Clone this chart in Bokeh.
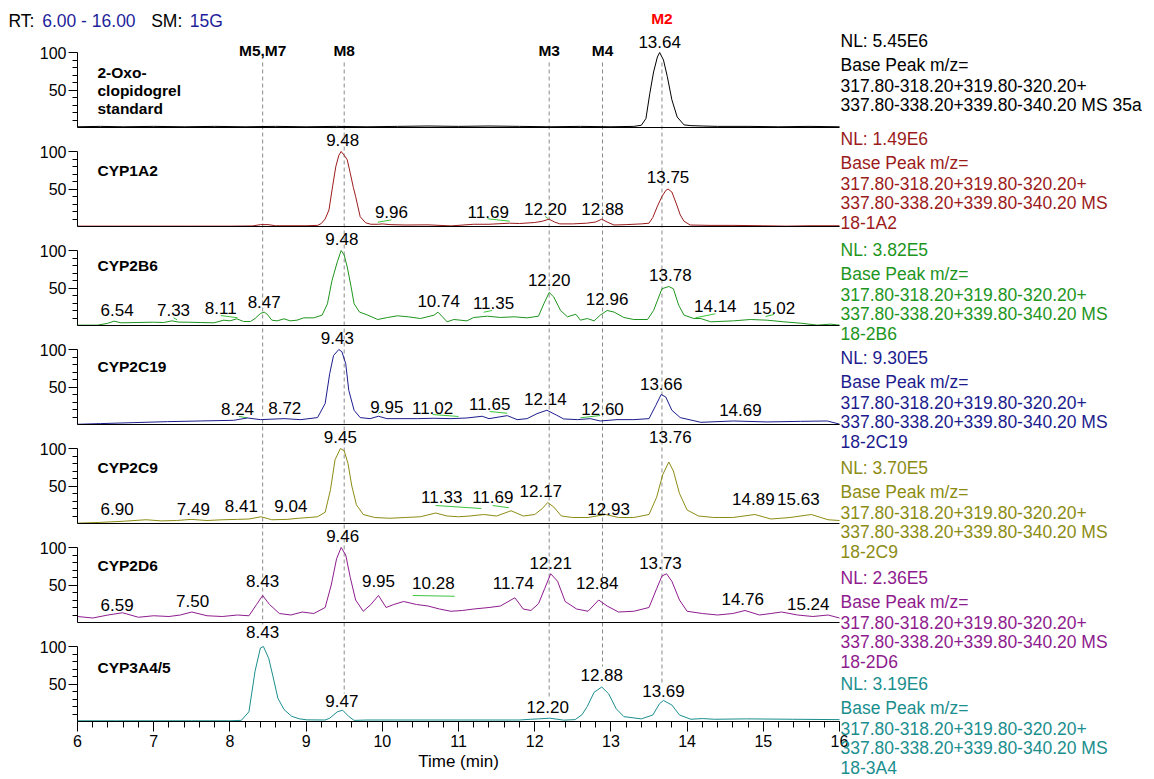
from bokeh.plotting import figure
from bokeh.models import Range1d, FixedTicker, Label, ColumnDataSource, LinearAxis
from bokeh.embed import file_html
from bokeh.resources import INLINE
from bokeh.core.properties import value

# ============================ DATA ============================
header_rt = "6.00 - 16.00"
header_sm = "15G"

marker_names = ["M5,M7", "M8", "M3", "M4", "M2"]
marker_rt = [8.43, 9.50, 12.19, 12.89, 13.67]

panel_titles = [["2-Oxo-", "clopidogrel", "standard"], ["CYP1A2"], ["CYP2B6"],
                ["CYP2C19"], ["CYP2C9"], ["CYP2D6"], ["CYP3A4/5"]]
nl_values = ["5.45E6", "1.49E6", "3.82E5", "9.30E5", "3.70E5", "2.36E5", "3.19E6"]
scan_ids = ["35a", "18-1A2", "18-2B6", "18-2C19", "18-2C9", "18-2D6", "18-3A4"]
mz_line1 = "317.80-318.20+319.80-320.20+"
mz_line2 = "337.80-338.20+339.80-340.20  MS"

# --- 2-Oxo-clopidogrel standard ---
rt_std = [6.00, 6.30, 6.60, 7.00, 7.40, 7.80, 8.20, 8.60, 9.00, 9.40,
          9.80, 10.20, 10.60, 11.00, 11.40, 11.80, 12.20, 12.60, 13.00, 13.30,
          13.40, 13.46, 13.51, 13.56, 13.61, 13.64, 13.69, 13.74, 13.80, 13.87,
          13.96, 14.05, 14.20, 14.40, 14.80, 15.20, 15.60, 16.00]
int_std = [1.0, 1.5, 1.0, 1.5, 1.0, 1.5, 1.0, 1.5, 1.0, 1.5,
           1.0, 1.5, 2.0, 1.5, 2.0, 1.5, 1.0, 1.5, 1.0, 1.5,
           3.0, 12, 45, 74, 94, 100, 90, 68, 37, 14,
           3.5, 2.5, 2.0, 1.5, 1.5, 1.0, 1.5, 1.0]

# --- CYP1A2 ---
rt_1a2 = [6.00, 6.50, 7.00, 7.50, 8.00, 8.30, 8.40, 8.50, 8.60, 9.00,
          9.15, 9.20, 9.25, 9.30, 9.35, 9.39, 9.43, 9.46, 9.50, 9.54,
          9.58, 9.62, 9.65, 9.71, 9.78, 9.85, 9.95, 10.00, 10.10, 10.30,
          10.60, 10.90, 11.20, 11.40, 11.67, 11.80, 12.00, 12.10, 12.19, 12.26,
          12.33, 12.50, 12.68, 12.80, 12.88, 12.95, 13.04, 13.20, 13.40, 13.50,
          13.55, 13.61, 13.67, 13.72, 13.75, 13.80, 13.86, 13.91, 13.96, 14.04,
          14.30, 14.60, 15.00, 15.30, 15.60, 16.00]
int_1a2 = [0.5, 0.5, 0.5, 0.5, 0.5, 0.8, 2.5, 2.5, 1.0, 1.0,
           1.5, 4, 10, 22, 55, 80, 95, 100, 95, 89,
           71, 52, 40, 13, 5, 3, 3, 3.5, 2.5, 2,
           2.2, 0.8, 3, 3, 4.4, 4, 5.3, 7, 9.8, 6,
           3.5, 3.5, 4.4, 6, 9.8, 6, 2, 2.5, 3.5, 4.4,
           12, 27, 40, 48, 50, 46, 30, 15.5, 7, 2,
           1.5, 1.5, 1.0, 0.5, 1.0, 1.0]

# --- CYP2B6 ---
rt_2b6 = [6.00, 6.26, 6.39, 6.48, 6.57, 6.78, 7.00, 7.13, 7.24, 7.33,
          7.44, 7.61, 7.79, 7.92, 8.00, 8.09, 8.18, 8.27, 8.33, 8.40,
          8.45, 8.49, 8.55, 8.62, 8.71, 8.79, 8.88, 8.97, 9.10, 9.21,
          9.28, 9.34, 9.41, 9.46, 9.50, 9.54, 9.59, 9.63, 9.70, 9.81,
          9.94, 10.07, 10.20, 10.34, 10.50, 10.68, 10.73, 10.79, 10.85, 10.94,
          11.11, 11.20, 11.38, 11.55, 11.73, 11.90, 12.05, 12.12, 12.19, 12.25,
          12.34, 12.43, 12.54, 12.60, 12.69, 12.78, 12.86, 12.95, 13.04, 13.17,
          13.30, 13.48, 13.56, 13.67, 13.76, 13.82, 13.89, 13.96, 14.09, 14.18,
          14.31, 14.61, 14.83, 15.05, 15.27, 15.50, 15.71, 15.88, 16.00]
int_2b6 = [0.5, 0.5, 2.7, 5.8, 3.6, 4.0, 4.4, 4.0, 6.2, 4.5,
           4.4, 4.0, 3.6, 7.1, 6.2, 8.9, 5.3, 5.3, 9.3, 16,
           17.8, 15, 7.1, 6.2, 8.9, 6.2, 7.1, 10.2, 10.2, 13.8,
           29, 60, 85, 100, 94, 78, 52, 29, 18, 13.8,
           8, 10.7, 12.9, 11.6, 9.3, 13.8, 17.8, 11.6, 4.9, 8,
           6.2, 10.7, 12.4, 10.7, 11.6, 10.2, 12.4, 29, 44, 38,
           20, 11.6, 15, 7.1, 9.3, 6.2, 13.8, 20, 18, 10.7,
           8, 8, 20, 49, 52, 49, 27, 13.8, 9.3, 9.3,
           4.9, 6.2, 8, 7.1, 4.9, 3, 0.5, 1.8, 0.5]

# --- CYP2C19 ---
rt_2c19 = [6.00, 6.30, 6.74, 7.18, 7.61, 8.05, 8.23, 8.40, 8.71, 8.93,
           9.15, 9.25, 9.31, 9.36, 9.43, 9.47, 9.52, 9.56, 9.63, 9.71,
           9.84, 9.95, 10.06, 10.46, 10.68, 10.90, 11.11, 11.31, 11.40, 11.64,
           11.77, 11.90, 12.03, 12.16, 12.29, 12.38, 12.56, 12.73, 12.86, 13.08,
           13.30, 13.50, 13.59, 13.66, 13.72, 13.80, 13.91, 14.18, 14.61, 15.05,
           15.49, 15.84, 16.00]
int_2c19 = [0.3, 1.2, 2.5, 3.8, 4.7, 5.6, 8.7, 6.5, 7.8, 6.5,
            9.2, 28, 68, 92, 100, 97, 81, 45.6, 19, 9.2,
            7.8, 11, 7.8, 7.8, 8.3, 7.8, 8.7, 11, 7.8, 11.8,
            6.5, 7.8, 14.5, 19, 12.3, 7.4, 6.5, 7.8, 4.7, 6.5,
            6.5, 7.8, 25.6, 40, 36.7, 19, 9.2, 2.9, 4.7, 3.4,
            4.2, 4.7, 0.5]

# --- CYP2C9 ---
rt_2c9 = [6.00, 6.30, 6.60, 6.90, 7.10, 7.30, 7.49, 7.70, 7.90, 8.10,
          8.25, 8.41, 8.55, 8.75, 8.90, 9.04, 9.15, 9.25, 9.32, 9.38,
          9.45, 9.50, 9.55, 9.60, 9.66, 9.75, 9.90, 10.10, 10.30, 10.50,
          10.70, 10.85, 11.00, 11.15, 11.33, 11.50, 11.69, 11.85, 12.00, 12.10,
          12.17, 12.25, 12.35, 12.50, 12.70, 12.93, 13.10, 13.30, 13.50, 13.60,
          13.68, 13.76, 13.82, 13.90, 14.00, 14.15, 14.35, 14.60, 14.89, 15.10,
          15.35, 15.63, 15.85, 16.00]
int_2c9 = [0.5, 1.5, 3.0, 5.0, 3.5, 4.0, 5.5, 4.0, 5.0, 5.5,
           6.0, 9.0, 5.0, 5.5, 7.0, 8.0, 9.0, 15, 45, 85,
           100, 97, 80, 50, 25, 12, 8, 7, 8, 9,
           14, 10, 9, 10, 12, 10, 17, 10, 12, 20,
           28, 22, 10, 8, 8, 12, 8, 8, 12, 35,
           65, 82, 70, 40, 18, 10, 8, 8, 12, 6,
           8, 12, 5, 4]

# --- CYP2D6 ---
rt_2d6 = [6.00, 6.20, 6.40, 6.59, 6.80, 7.00, 7.20, 7.35, 7.50, 7.70,
          7.90, 8.10, 8.25, 8.35, 8.43, 8.52, 8.65, 8.80, 8.95, 9.10,
          9.25, 9.33, 9.40, 9.46, 9.52, 9.58, 9.65, 9.75, 9.85, 9.95,
          10.05, 10.15, 10.28, 10.45, 10.60, 10.75, 10.90, 11.05, 11.20, 11.40,
          11.55, 11.74, 11.85, 11.95, 12.05, 12.13, 12.21, 12.30, 12.40, 12.55,
          12.70, 12.84, 12.95, 13.10, 13.30, 13.50, 13.60, 13.67, 13.73, 13.80,
          13.90, 14.00, 14.20, 14.40, 14.60, 14.76, 14.95, 15.10, 15.24, 15.45,
          15.65, 15.85, 16.00]
int_2d6 = [8, 6, 10, 13, 7, 9, 8, 10, 14, 9,
           8, 10, 9, 24, 36, 24, 12, 10, 14, 12,
           20, 50, 85, 100, 90, 60, 30, 15, 24, 36,
           20, 24, 28, 24, 22, 18, 15, 16, 18, 20,
           22, 33, 18, 16, 25, 45, 65, 55, 28, 18,
           15, 30, 22, 14, 15, 20, 45, 62, 65, 55,
           30, 15, 12, 10, 12, 16, 10, 12, 14, 10,
           8, 10, 6]

# --- CYP3A4/5 ---
rt_3a4 = [6.00, 6.50, 7.00, 7.50, 8.00, 8.15, 8.25, 8.33, 8.40, 8.44,
          8.51, 8.57, 8.63, 8.71, 8.81, 8.91, 9.01, 9.25, 9.31, 9.41,
          9.48, 9.56, 9.63, 9.80, 10.20, 10.60, 11.00, 11.40, 11.80, 11.95,
          12.05, 12.20, 12.38, 12.53, 12.62, 12.69, 12.78, 12.88, 12.97, 13.07,
          13.17, 13.40, 13.55, 13.64, 13.69, 13.80, 13.90, 14.05, 14.20, 14.36,
          14.78, 15.38, 16.00]
int_3a4 = [1.0, 1.0, 1.0, 1.0, 1.0, 1.5, 13, 67, 98, 100,
           84, 58, 31, 16, 7, 3.6, 2.2, 2.0, 4.4, 13,
           15, 6.7, 1.5, 2.0, 2.0, 2.0, 2.0, 2.0, 2.0, 3.0,
           3.5, 4.4, 1.8, 2.5, 9, 20, 39, 46, 37, 17,
           6.5, 3.5, 8.7, 24, 28, 22, 8.7, 3, 3.9, 3,
           3.5, 3, 2.5]

# peak annotation texts
peaks_std = ["13.64"]
peaks_1a2 = ["9.48", "9.96", "11.69", "12.20", "12.88", "13.75"]
peaks_2b6 = ["6.54", "7.33", "8.11", "8.47", "9.48", "10.74", "11.35", "12.20",
             "12.96", "13.78", "14.14", "15.02"]
peaks_2c19 = ["8.24", "8.72", "9.43", "9.95", "11.02", "11.65", "12.14", "12.60",
              "13.66", "14.69"]
peaks_2c9 = ["6.90", "7.49", "8.41", "9.04", "9.45", "11.33", "11.69", "12.17",
             "12.93", "13.76", "14.89", "15.63"]
peaks_2d6 = ["6.59", "7.50", "8.43", "9.46", "9.95", "10.28", "11.74", "12.21",
             "12.84", "13.73", "14.76", "15.24"]
peaks_3a4 = ["8.43", "9.47", "12.20", "12.88", "13.69"]

# ====================== LAYOUT / STYLE ======================
# label anchors: x in minutes, y in % of the panel
lx_std = [13.64]
ly_std = [114]
lx_1a2 = [9.48, 10.12, 11.39, 12.14, 12.89, 13.75]
ly_1a2 = [115, 19, 19.6, 23, 23, 66]
lx_2b6 = [6.52, 7.26, 7.88, 8.45, 9.47, 10.74, 11.46, 12.19, 12.95, 13.78, 14.37, 15.14]
ly_2b6 = [20.4, 20.4, 22.7, 31.5, 114.7, 32.8, 30, 60.4, 36, 68, 25.7, 22.7]
lx_2c19 = [8.10, 8.72, 9.41, 10.06, 10.66, 11.41, 12.14, 12.89, 13.66, 14.70]
ly_2c19 = [20.3, 22, 116, 24, 22.5, 27, 34.5, 21, 54.5, 20]
lx_2c9 = [6.52, 7.52, 8.15, 8.80, 9.45, 10.78, 11.45, 12.08, 12.97, 13.78, 14.87, 15.46]
ly_2c9 = [20, 20, 24, 24, 116, 35, 35, 44, 19, 116, 33, 33]
lx_2d6 = [6.52, 7.51, 8.43, 9.48, 9.95, 10.67, 11.72, 12.21, 12.82, 13.65, 14.73, 15.59]
ly_2d6 = [24, 29, 55, 116, 55, 53, 53, 79, 53, 79, 32, 25]
lx_3a4 = [8.43, 9.47, 12.17, 12.88, 13.69]
ly_3a4 = [119, 26.7, 20, 62, 41]

# small green leader lines joining displaced labels to their peaks (x0, y0, x1, y1)
lead_std = []
lead_1a2 = [(9.94, 5.7, 10.12, 8.9), (11.38, 10.3, 11.67, 7.1), (12.14, 13.3, 12.18, 10.3)]
lead_2b6 = [(7.26, 10.3, 7.31, 7.6), (7.88, 13.3, 8.10, 10.3), (11.33, 17.7, 11.44, 20),
            (14.11, 10.3, 14.37, 15.6), (15.03, 12, 15.14, 14.7)]
lead_2c19 = [(8.12, 10.7, 8.23, 8.9), (9.95, 15, 9.99, 17.7), (10.66, 13.3, 11.0, 10.7),
             (11.41, 17.3, 11.64, 15), (12.60, 8.9, 12.86, 12)]
lead_2c9 = [(10.70, 24, 11.30, 20), (11.45, 24, 11.66, 21)]
lead_2d6 = [(10.40, 36, 10.95, 35)]
lead_3a4 = []

FONT = "Liberation Sans"
colors = ["#000000", "#9B1B1B", "#1E951E", "#1C1C8E", "#8C8C14", "#8E1C8E", "#1B8E8E"]
NAVY = "#1F1F9C"
DASH_COLOR = "#8a8a8a"
LEADER_COLOR = "#3CC43C"

W, H = 1154, 779
PX_MIN = 76.2          # pixels per minute
PX_UNIT = 0.75         # pixels per % unit
X_PX6 = 77             # pixel column of t = 6 min
baseline_px = [127, 226, 325, 424, 523, 622, 721]


def px_to_rt(px):
    return 6 + (px - X_PX6) / PX_MIN


p = figure(width=W, height=H,
           x_range=Range1d(px_to_rt(0), px_to_rt(W)), y_range=Range1d(H, 0),
           x_axis_location=None, y_axis_location=None,
           output_backend="svg", toolbar_location=None,
           min_border_left=0, min_border_right=0, min_border_top=0, min_border_bottom=0)
p.outline_line_color = None
p.background_fill_color = "white"
p.border_fill_color = "white"
for g in p.grid:
    g.visible = False

p.extra_y_ranges = {f"p{k}": Range1d(-(H - baseline_px[k]) / PX_UNIT, baseline_px[k] / PX_UNIT)
                    for k in range(7)}

traces = [(rt_std, int_std), (rt_1a2, int_1a2), (rt_2b6, int_2b6), (rt_2c19, int_2c19),
          (rt_2c9, int_2c9), (rt_2d6, int_2d6), (rt_3a4, int_3a4)]
peak_txt = [peaks_std, peaks_1a2, peaks_2b6, peaks_2c19, peaks_2c9, peaks_2d6, peaks_3a4]
peak_lx = [lx_std, lx_1a2, lx_2b6, lx_2c19, lx_2c9, lx_2d6, lx_3a4]
peak_ly = [ly_std, ly_1a2, ly_2b6, ly_2c19, ly_2c9, ly_2d6, ly_3a4]
leaders = [lead_std, lead_1a2, lead_2b6, lead_2c19, lead_2c9, lead_2d6, lead_3a4]

# dashed metabolite marker lines (drawn first, underneath the traces)
dash_top_px = 62
dash_end_px = [624, 693, 698, 666, 682]
p.segment(x0=marker_rt, y0=[dash_top_px] * len(marker_rt), x1=marker_rt, y1=dash_end_px,
          line_color=DASH_COLOR, line_dash="4 3", line_width=1)

title_px_y = [[71.7, 90, 108.3], [170], [265], [366], [467], [565], [667]]
title_px_x = 97

for k in range(7):
    rn = f"p{k}"
    ya = LinearAxis(y_range_name=rn, fixed_location=6, bounds=(0, 100),
                    ticker=FixedTicker(ticks=[50, 100], minor_ticks=[10, 20, 30, 40, 60, 70, 80, 90]),
                    major_tick_out=9, major_tick_in=0, minor_tick_out=5, minor_tick_in=0,
                    major_label_standoff=2, major_label_text_font=FONT,
                    major_label_text_font_size="16px", major_label_text_color="black",
                    axis_line_color="black", major_tick_line_color="black",
                    minor_tick_line_color="black")
    p.add_layout(ya, "left")

    if k < 6:
        xa = LinearAxis(y_range_name=rn, fixed_location=0, bounds=(6, 16),
                        ticker=FixedTicker(ticks=[]), major_tick_out=0, major_tick_in=0,
                        minor_tick_out=0, minor_tick_in=0, major_label_standoff=0,
                        major_label_text_font_size="0px", axis_line_color="black")
    else:
        xa = LinearAxis(y_range_name=rn, fixed_location=0, bounds=(6, 16),
                        ticker=FixedTicker(ticks=list(range(6, 17)),
                                           minor_ticks=[round(6 + 0.2 * i, 1) for i in range(51)]),
                        major_tick_out=10, major_tick_in=0, minor_tick_out=6, minor_tick_in=0,
                        major_label_standoff=3, major_label_text_font=FONT,
                        major_label_text_font_size="16px", major_label_text_color="black",
                        axis_line_color="black", major_tick_line_color="black",
                        minor_tick_line_color="black",
                        axis_label="Time (min)", axis_label_text_font=FONT,
                        axis_label_text_font_size="17px", axis_label_text_font_style="normal",
                        axis_label_text_color="black", axis_label_standoff=2)
    p.add_layout(xa, "below")

    if leaders[k]:
        p.segment(x0=[s[0] for s in leaders[k]], y0=[s[1] for s in leaders[k]],
                  x1=[s[2] for s in leaders[k]], y1=[s[3] for s in leaders[k]],
                  line_color=LEADER_COLOR, line_width=1, y_range_name=rn)

    rt, inten = traces[k]
    p.line(rt, inten, line_color=colors[k], line_width=1, y_range_name=rn)

    src = ColumnDataSource(dict(x=peak_lx[k], y=peak_ly[k], text=peak_txt[k]))
    p.text(x="x", y="y", text="text", source=src, y_range_name=rn, text_font=value(FONT),
           text_font_size=value("17px"), text_align="center", text_baseline="middle",
           text_color="black")

    for t_txt, ty in zip(panel_titles[k], title_px_y[k]):
        p.add_layout(Label(x=px_to_rt(title_px_x), y=ty, text=t_txt,
                           text_font=FONT, text_font_size="15.5px", text_font_style="bold",
                           text_align="left", text_baseline="middle", text_color="black"))

# header
for txt, px, col in [("RT:", 8, "black"), (header_rt, 41.7, NAVY),
                     ("SM:", 150.7, "black"), (header_sm, 189.3, NAVY)]:
    p.add_layout(Label(x=px_to_rt(px), y=20, text=txt, text_font=FONT,
                       text_font_size="17.5px", text_align="left", text_baseline="middle",
                       text_color=col))

# metabolite names
for name, m in zip(marker_names, marker_rt):
    is_m2 = name == "M2"
    p.add_layout(Label(x=m, y=18 if is_m2 else 50, text=name, text_font=FONT,
                       text_font_size="15.5px", text_font_style="bold", text_align="center",
                       text_baseline="middle", text_color="#FF0000" if is_m2 else "black"))

# right-hand NL / filter text blocks
nl_px_y = [40, 138.3, 249.3, 357.3, 467.3, 577, 683]
line_offsets = [0, 24.5, 44.5, 64.5, 84]
text_px_x = 840
for k in range(7):
    if k == 0:
        lines = ["NL: " + nl_values[k], "Base Peak m/z=", mz_line1, mz_line2 + " " + scan_ids[k]]
    else:
        lines = ["NL: " + nl_values[k], "Base Peak m/z=", mz_line1, mz_line2, scan_ids[k]]
    for i, txt in enumerate(lines):
        p.add_layout(Label(x=px_to_rt(text_px_x), y=nl_px_y[k] + line_offsets[i], text=txt,
                           text_font=FONT, text_font_size="17.5px", text_align="left",
                           text_baseline="middle", text_color=colors[k]))

open("out.html", "w").write(file_html(p, INLINE))
